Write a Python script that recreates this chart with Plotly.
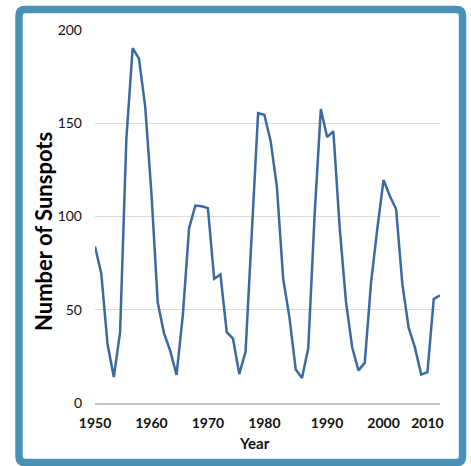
import plotly.graph_objects as go

years = [1950, 1951, 1952, 1953, 1955, 1956, 1957, 1958, 1959, 1960, 1961, 1962, 1963,
         1965, 1966, 1967, 1968, 1969, 1970, 1971, 1972, 1973, 1974, 1975,
         1977, 1978, 1979, 1980, 1981, 1982, 1983, 1984, 1985, 1986, 1987, 1988, 1989,
         1990, 1991, 1992, 1993, 1994, 1995,
         1997, 1998, 1999, 2000, 2001, 2002, 2003, 2004, 2005, 2006,
         2010, 2011, 2012]
sunspots = [83.9, 69.4, 31.5, 13.9, 38.0, 141.7, 190.2, 184.8, 159.0, 112.3, 53.9, 37.5, 27.9,
            15.1, 47.0, 93.8, 105.9, 105.5, 104.5, 66.6, 68.9, 38.0, 34.5, 15.5,
            27.5, 92.5, 155.4, 154.6, 140.4, 115.9, 66.6, 45.9, 17.9, 13.4, 29.4, 100.2, 157.6,
            142.6, 145.7, 94.3, 54.6, 29.9, 17.5,
            21.5, 64.3, 93.3, 119.6, 111.0, 104.0, 63.7, 40.4, 29.8, 15.2,
            16.5, 55.7, 57.7]
x_tick_labels = ["1950", "1960", "1970", "1980", "1990", "2000", "2010"]
y_ticks = [0, 50, 100, 150, 200]

cats = [str(y) for y in years]

W, H = 471, 466
L, R, T, B = 95, 31, 30, 63
pw, ph = W - L - R, H - T - B

def px_x(p):
    return (p - L) / pw

def px_y(p):
    return (H - B - p) / ph

def rounded_frame(x0, y0, x1, y1, r):
    def P(px, py):
        return f"{px_x(px):.5f},{px_y(py):.5f}"
    return (
        f"M {P(x0 + r, y0)} L {P(x1 - r, y0)} Q {P(x1, y0)} {P(x1, y0 + r)} "
        f"L {P(x1, y1 - r)} Q {P(x1, y1)} {P(x1 - r, y1)} "
        f"L {P(x0 + r, y1)} Q {P(x0, y1)} {P(x0, y1 - r)} "
        f"L {P(x0, y0 + r)} Q {P(x0, y0)} {P(x0 + r, y0)} Z"
    )

fig = go.Figure()
fig.add_trace(go.Scatter(
    x=cats, y=sunspots, mode="lines",
    line=dict(color="#3b6aa0", width=2.5),
    hoverinfo="x+y", showlegend=False,
))

fig.update_layout(
    width=W, height=H,
    margin=dict(l=L, r=R, t=T, b=B),
    paper_bgcolor="white", plot_bgcolor="white",
    font=dict(family="Lato, 'Open Sans', sans-serif", color="#1a1a1a"),
    xaxis=dict(
        type="category", range=[0, len(cats) - 1],
        tickvals=x_tick_labels, ticktext=x_tick_labels,
        showgrid=False, zeroline=False,
        showline=True, linecolor="#c4c4c4", linewidth=2,
        ticks="", tickfont=dict(size=14, family="Lato", weight="bold", color="#111"),
        ticklabelstandoff=6,
    ),
    yaxis=dict(
        range=[0, 200], tickvals=y_ticks,
        showgrid=True, gridcolor="#dadada", gridwidth=1,
        zeroline=False, showline=False, ticks="",
        tickfont=dict(size=14, family="Lato", color="#111"),
        ticklabelstandoff=12,
    ),
    annotations=[
        dict(text="<b>Number of Sunspots</b>", textangle=-90,
             x=px_x(43), y=px_y(232), xref="paper", yref="paper",
             xanchor="center", yanchor="middle", showarrow=False,
             font=dict(size=22, family="Lato", color="#000")),
        dict(text="<b>Year</b>",
             x=px_x(254), y=px_y(443), xref="paper", yref="paper",
             xanchor="center", yanchor="middle", showarrow=False,
             font=dict(size=15, family="Lato", color="#111")),
    ],
    shapes=[
        dict(type="path", xref="paper", yref="paper",
             path=rounded_frame(19, 9.5, 462.5, 462.5, 6),
             line=dict(color="#4791b5", width=7.5), fillcolor="rgba(0,0,0,0)",
             layer="below"),
    ],
)

fig.write_html(
    "out.html",
    config={"displayModeBar": False},
    post_script="document.body.style.margin='0';document.body.style.overflow='hidden';",
)
